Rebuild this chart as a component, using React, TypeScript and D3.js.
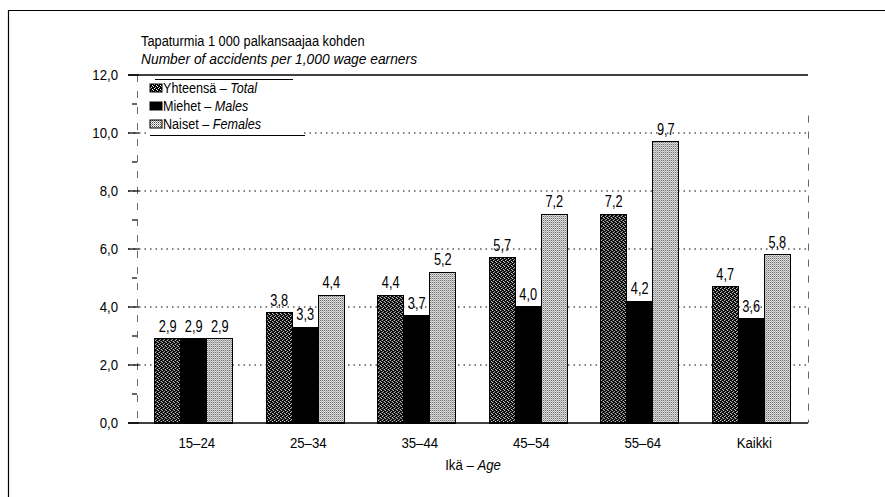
import React from 'react';
import * as d3 from 'd3';

// Accidents per 1,000 wage earners by age group
const ageGroups = ['15–24', '25–34', '35–44', '45–54', '55–64', 'Kaikki'];
const totalValues = [2.9, 3.8, 4.4, 5.7, 7.2, 4.7];
const maleValues = [2.9, 3.3, 3.7, 4.0, 4.2, 3.6];
const femaleValues = [2.9, 4.4, 5.2, 7.2, 9.7, 5.8];

const seriesKeys = ['total', 'males', 'females'];
const seriesNames = ['Yhteensä', 'Miehet', 'Naiset'];
const seriesNamesEn = ['Total', 'Males', 'Females'];
const yTicks = [0, 2, 4, 6, 8, 10, 12];
const yMinorTicks = [1, 3, 5, 7, 9, 11];

const W = 885;
const H = 497;
const FONT = "'Liberation Sans', Arial, sans-serif";

const fills: Record<string, string> = {
  total: 'url(#patTotal)',
  males: '#000',
  females: 'url(#patFemale)',
};

const fmt = (v: number) => v.toFixed(1).replace('.', ',');

// no condensed font available, so squeeze text horizontally
const Txt: React.FC<{ x: number; y: number; sx?: number; size?: number; anchor?: string; italic?: boolean; dy?: string; children?: React.ReactNode }> = ({
  x, y, sx = 0.9, size = 14, anchor = 'start', italic, dy, children,
}) => (
  <text
    transform={`translate(${x},${y}) scale(${sx},1)`}
    fontSize={size}
    textAnchor={anchor}
    fontStyle={italic ? 'italic' : 'normal'}
    dy={dy}
  >
    {children}
  </text>
);

const App: React.FC = () => {
  const x = d3.scaleBand<string>().domain(ageGroups).range([138, 807]).paddingInner(0.3).paddingOuter(0.15);
  const xs = d3.scaleBand<string>().domain(seriesKeys).range([0, x.bandwidth()]);
  const y = d3.scaleLinear().domain([0, 12]).range([423, 75]);

  const rows = ageGroups.map((g, i) => ({
    group: g,
    vals: [totalValues[i], maleValues[i], femaleValues[i]],
  }));

  const plotL = 128;
  const plotR = 808;

  return (
    <svg width={W} height={H} style={{ position: 'absolute', left: 0, top: 0, background: '#fff' }} fontFamily={FONT}>
      <defs>
        <pattern id="patTotal" width="4" height="4" patternUnits="userSpaceOnUse">
          <rect width="4" height="4" fill="#000" />
          <rect x="0" y="0" width="1" height="1" fill="#fff" />
          <rect x="2" y="1" width="1" height="1" fill="#fff" />
          <rect x="1" y="3" width="1" height="1" fill="#ccc" />
          <rect x="3" y="2" width="1" height="1" fill="#fff" />
        </pattern>
        <pattern id="patFemale" width="2" height="2" patternUnits="userSpaceOnUse">
          <rect width="2" height="2" fill="#fff" />
          <rect x="0" y="0" width="1" height="1" fill="#444" />
          <rect x="1" y="1" width="1" height="1" fill="#999" />
        </pattern>
      </defs>

      {/* frame */}
      <line x1={8.5} x2={8.5} y1={10} y2={H} stroke="#000" strokeWidth={1.2} />
      <line x1={8} x2={W} y1={10.5} y2={10.5} stroke="#000" strokeWidth={1.2} />

      {/* titles */}
      <Txt x={141} y={46} size={15} sx={0.855}>Tapaturmia 1 000 palkansaajaa kohden</Txt>
      <Txt x={141} y={64} size={15} sx={0.92} italic>Number of accidents per 1,000 wage earners</Txt>

      {/* gridlines */}
      {yTicks.filter((t) => t > 0 && t < 12).map((t) => (
        <line key={t} x1={plotL} x2={plotR} y1={y(t)} y2={y(t)} stroke="#000" strokeWidth={1} strokeDasharray="1.5,4" />
      ))}

      {/* left and right dashed axes */}
      <line x1={137.5} x2={137.5} y1={y(12)} y2={y(0)} stroke="#666" strokeWidth={1} strokeDasharray="7,9" />
      <line x1={808.5} x2={808.5} y1={y(10.6)} y2={y(0)} stroke="#666" strokeWidth={1} strokeDasharray="7,9" />

      {/* y ticks */}
      {yTicks.map((t) => (
        <g key={t}>
          <line x1={plotL} x2={139} y1={y(t)} y2={y(t)} stroke="#000" strokeWidth={1.2} />
          <Txt x={118} y={y(t)} dy="0.35em" anchor="end" size={15} sx={0.88}>{fmt(t)}</Txt>
        </g>
      ))}
      {yMinorTicks.map((t) => (
        <line key={t} x1={132} x2={137} y1={y(t)} y2={y(t)} stroke="#000" strokeWidth={1.2} />
      ))}

      {/* bars */}
      {rows.map((r) => (
        <g key={r.group} transform={`translate(${x(r.group)},0)`}>
          {r.vals.map((v, j) => (
            <rect
              key={j}
              x={xs(seriesKeys[j])}
              y={y(v)}
              width={xs.bandwidth()}
              height={y(0) - y(v)}
              fill={fills[seriesKeys[j]]}
              stroke="#000"
              strokeWidth={1.2}
              shapeRendering="crispEdges"
            />
          ))}
          {r.vals.map((v, j) => (
            <Txt
              key={'l' + j}
              x={(xs(seriesKeys[j]) as number) + xs.bandwidth() / 2}
              y={y(v) - 7}
              anchor="middle"
              size={16}
              sx={0.8}
            >
              {fmt(v)}
            </Txt>
          ))}
          <Txt x={x.bandwidth() / 2 + 3} y={448} anchor="middle" size={15} sx={0.88}>{r.group}</Txt>
        </g>
      ))}

      {/* top and bottom solid lines */}
      <line x1={plotL} x2={plotR} y1={y(12)} y2={y(12)} stroke="#000" strokeWidth={1.3} />
      <line x1={plotL} x2={plotR} y1={y(0)} y2={y(0)} stroke="#000" strokeWidth={1.3} />

      {/* legend */}
      <rect x={146} y={79} width={158} height={56} fill="#fff" />
      <line x1={155} x2={293} y1={79.5} y2={79.5} stroke="#000" strokeWidth={1} />
      <line x1={150} x2={305} y1={135.5} y2={135.5} stroke="#000" strokeWidth={1} />
      {seriesKeys.map((k, i) => (
        <g key={k} transform={`translate(150,${88 + i * 18})`}>
          <rect x={0} y={-4} width={12} height={8} fill={fills[k]} stroke="#000" strokeWidth={1} />
          <Txt x={13} y={0} dy="0.35em" size={15} sx={0.84}>
            {seriesNames[i]} – <tspan fontStyle="italic">{seriesNamesEn[i]}</tspan>
          </Txt>
        </g>
      ))}

      {/* x axis title */}
      <Txt x={473} y={470} anchor="middle" size={15} sx={0.88}>
        Ikä – <tspan fontStyle="italic">Age</tspan>
      </Txt>
    </svg>
  );
};

export default App;
